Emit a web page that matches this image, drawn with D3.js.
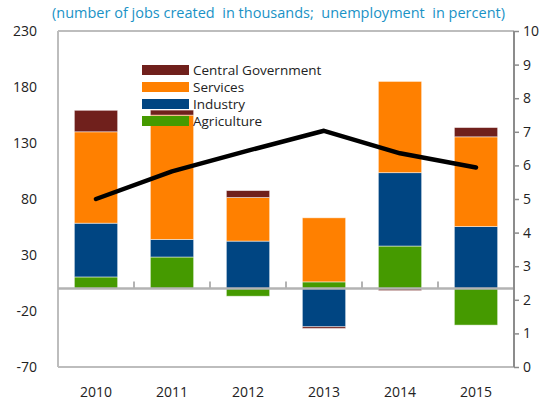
<!DOCTYPE html>
<html>
<head>
<meta charset="utf-8">
<script src="https://cdn.jsdelivr.net/npm/d3@7"></script>
<style>
  body { margin: 0; background: #fff; }
  text { font-family: "Open Sans", "Noto Sans", sans-serif; }
</style>
</head>
<body>
<svg id="chart" width="550" height="405"></svg>
<script>
// Data
const years = ['2010', '2011', '2012', '2013', '2014', '2015'];
const agriculture = [10.4, 28.2, -6.8, 6, 38, -32.6];
const industry = [48, 15.7, 42.4, -34.1, 65.5, 55.4];
const services = [81.6, 111, 38.9, 57.2, 81.5, 80.1];
const centralGov = [19.2, 4.5, 6.2, -1.5, -1.8, 8.3];
const unemployment = [5.0, 5.82, 6.44, 7.03, 6.36, 5.94];
const leftTicks = [230, 180, 130, 80, 30, -20, -70];
const rightTicks = [0, 1, 2, 3, 4, 5, 6, 7, 8, 9, 10];

const seriesKeys = ['Agriculture', 'Industry', 'Services', 'Central Government'];
const colors = {
  Agriculture: '#459a00',
  Industry: '#004582',
  Services: '#ff8000',
  'Central Government': '#70201c',
};

const rows = years.map((y, i) => ({
  year: y,
  Agriculture: agriculture[i],
  Industry: industry[i],
  Services: services[i],
  'Central Government': centralGov[i],
}));

const svg = d3.select('#chart');
const margin = { top: 31, right: 36, bottom: 38, left: 58 };
const width = 550 - margin.left - margin.right;
const height = 405 - margin.top - margin.bottom;

const x = d3.scaleBand().domain(years).range([margin.left, margin.left + width])
  .paddingInner(0.43).paddingOuter(0.215);
const y = d3.scaleLinear().domain([-70, 230]).range([margin.top + height, margin.top]);
const y2 = d3.scaleLinear().domain([0, 10]).range([margin.top + height, margin.top]);

// Subtitle
svg.append('text')
  .attr('x', 52)
  .attr('y', 18)
  .attr('fill', '#1a92c6')
  .style('font-size', '14.5px')
  .style('white-space', 'pre')
  .text('(number of jobs created  in thousands;  unemployment  in percent)');

// Frame (light gray)
const frame = svg.append('g').attr('stroke', '#bdbdbd').attr('stroke-width', 2).attr('fill', 'none');
frame.append('line').attr('x1', margin.left).attr('x2', margin.left + width)
  .attr('y1', margin.top).attr('y2', margin.top);
frame.append('line').attr('x1', margin.left).attr('x2', margin.left + width)
  .attr('y1', margin.top + height).attr('y2', margin.top + height);
frame.append('line').attr('x1', margin.left).attr('x2', margin.left)
  .attr('y1', margin.top).attr('y2', margin.top + height);

// Left tick labels
svg.append('g').selectAll('text')
  .data(leftTicks)
  .enter().append('text')
  .attr('x', 37)
  .attr('y', (d) => y(d))
  .attr('dy', '0.35em')
  .attr('text-anchor', 'end')
  .attr('fill', '#222')
  .style('font-size', '14px')
  .text((d) => d);

// Bars
const stack = d3.stack().keys(seriesKeys).offset(d3.stackOffsetDiverging);
const stacked = stack(rows);

svg.append('g').selectAll('g')
  .data(stacked)
  .enter().append('g')
  .attr('fill', (d) => colors[d.key])
  .selectAll('rect')
  .data((d) => d.filter((p) => p[1] !== p[0]))
  .enter().append('rect')
  .attr('x', (d) => x(d.data.year))
  .attr('width', x.bandwidth())
  .attr('y', (d) => y(Math.max(d[0], d[1])))
  .attr('height', (d) => Math.abs(y(d[0]) - y(d[1])))
  .attr('stroke', 'rgba(255,255,255,0.6)')
  .attr('stroke-width', 0.8);

// Zero line with category ticks
const zeroY = y(0);
svg.append('line')
  .attr('x1', margin.left).attr('x2', margin.left + width)
  .attr('y1', zeroY).attr('y2', zeroY)
  .attr('stroke', '#b3b3b3').attr('stroke-width', 2.5);
svg.append('g').selectAll('line')
  .data(years.slice(1))
  .enter().append('line')
  .attr('x1', (d) => x(d) - x.step() * x.paddingInner() / 2)
  .attr('x2', (d) => x(d) - x.step() * x.paddingInner() / 2)
  .attr('y1', zeroY).attr('y2', zeroY - 7)
  .attr('stroke', '#b3b3b3').attr('stroke-width', 2);

// Right axis
const rightAxis = d3.axisRight(y2).tickValues(rightTicks).tickSize(5).tickPadding(4);
const ra = svg.append('g')
  .attr('transform', `translate(${margin.left + width},0)`)
  .call(rightAxis);
ra.select('.domain').attr('stroke', '#8c8c8c').attr('stroke-width', 2)
  .attr('d', `M0,${margin.top}V${margin.top + height}`);
ra.selectAll('.tick line').attr('stroke', '#8c8c8c').attr('stroke-width', 1.5);
ra.selectAll('.tick text').attr('fill', '#222').style('font-size', '14px')
  .style('font-family', '"Open Sans", sans-serif');

// X labels
svg.append('g').selectAll('text')
  .data(years)
  .enter().append('text')
  .attr('x', (d) => x(d) + x.bandwidth() / 2)
  .attr('y', 397)
  .attr('text-anchor', 'middle')
  .attr('fill', '#222')
  .style('font-size', '14px')
  .text((d) => d);

// Unemployment line
const line = d3.line()
  .x((d, i) => x(years[i]) + x.bandwidth() / 2)
  .y((d) => y2(d));
svg.append('path')
  .datum(unemployment)
  .attr('d', line)
  .attr('fill', 'none')
  .attr('stroke', '#000')
  .attr('stroke-width', 4.5)
  .attr('stroke-linecap', 'round')
  .attr('stroke-linejoin', 'round');

// Legend
const legendItems = ['Central Government', 'Services', 'Industry', 'Agriculture'];
const legend = svg.append('g').attr('transform', 'translate(142,65)');
legendItems.forEach((k, i) => {
  const g = legend.append('g').attr('transform', `translate(0,${i * 17})`);
  g.append('rect').attr('width', 47).attr('height', 10).attr('fill', colors[k]);
  g.append('text')
    .attr('x', 51)
    .attr('y', 5)
    .attr('dy', '0.35em')
    .attr('fill', '#222')
    .style('font-size', '13.5px')
    .text(k);
});
</script>
</body>
</html>
